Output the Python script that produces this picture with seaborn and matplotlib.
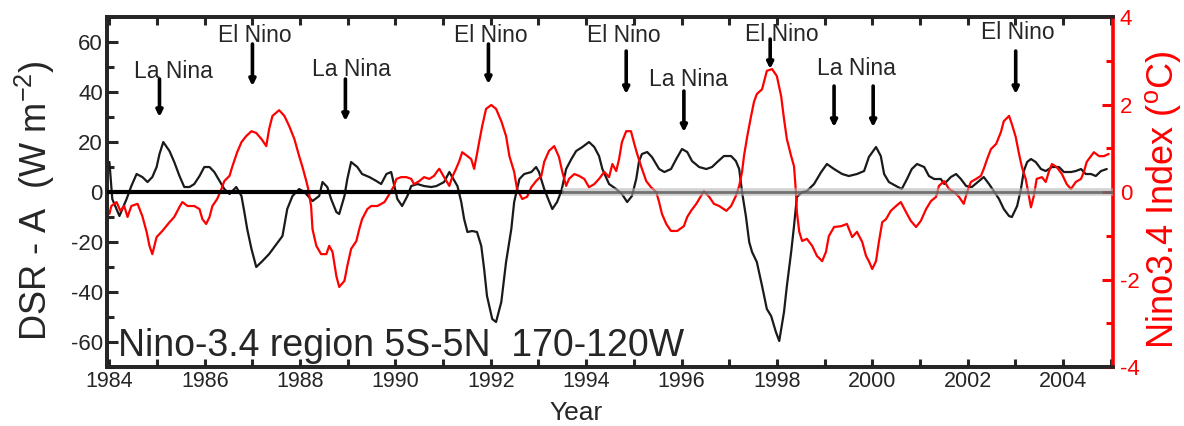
import numpy as np
import pandas as pd
import matplotlib
matplotlib.use("Agg")
import matplotlib.pyplot as plt
from matplotlib.ticker import MultipleLocator
import seaborn as sns

# ==========================================
# Data
# ==========================================

dsr_year = [
    1984.00, 1984.06, 1984.21, 1984.36, 1984.46, 1984.57, 1984.69, 1984.80, 1984.90, 1984.99,
    1985.05, 1985.13, 1985.26, 1985.36, 1985.47, 1985.57, 1985.68, 1985.78, 1985.89, 1985.99,
    1986.10, 1986.20, 1986.31, 1986.41, 1986.52, 1986.66, 1986.77, 1986.83, 1986.89, 1986.98,
    1987.08, 1987.21, 1987.35, 1987.63, 1987.73, 1987.84, 1987.98, 1988.09, 1988.26, 1988.40,
    1988.47, 1988.57, 1988.65, 1988.76, 1988.82, 1988.93, 1988.99, 1989.07, 1989.20, 1989.30,
    1989.45, 1989.60, 1989.70, 1989.81, 1989.91, 1990.04, 1990.14, 1990.25, 1990.33, 1990.46,
    1990.60, 1990.75, 1990.86, 1991.02, 1991.13, 1991.30, 1991.38, 1991.44, 1991.51, 1991.61,
    1991.71, 1991.80, 1991.86, 1991.92, 1992.03, 1992.11, 1992.22, 1992.32, 1992.43, 1992.49,
    1992.60, 1992.70, 1992.85, 1992.95, 1993.01, 1993.12, 1993.22, 1993.29, 1993.39, 1993.48,
    1993.58, 1993.69, 1993.79, 1993.92, 1994.06, 1994.17, 1994.27, 1994.34, 1994.48, 1994.63,
    1994.75, 1994.86, 1994.96, 1995.05, 1995.11, 1995.17, 1995.28, 1995.38, 1995.53, 1995.64,
    1995.78, 1995.89, 1996.01, 1996.12, 1996.22, 1996.37, 1996.52, 1996.64, 1996.75, 1996.89,
    1997.04, 1997.14, 1997.21, 1997.27, 1997.35, 1997.42, 1997.48, 1997.58, 1997.69, 1997.79,
    1997.88, 1997.98, 1998.05, 1998.15, 1998.21, 1998.30, 1998.36, 1998.42, 1998.53, 1998.63,
    1998.78, 1998.93, 1999.05, 1999.20, 1999.37, 1999.51, 1999.68, 1999.83, 1999.93, 2000.08,
    2000.18, 2000.25, 2000.35, 2000.50, 2000.62, 2000.73, 2000.83, 2000.94, 2001.09, 2001.19,
    2001.30, 2001.44, 2001.51, 2001.65, 2001.76, 2001.86, 2001.97, 2002.09, 2002.24, 2002.34,
    2002.45, 2002.55, 2002.66, 2002.76, 2002.87, 2002.93, 2003.04, 2003.12, 2003.18, 2003.25,
    2003.33, 2003.43, 2003.54, 2003.64, 2003.77, 2003.92, 2004.02, 2004.17, 2004.27, 2004.38,
    2004.48, 2004.59, 2004.69, 2004.80, 2004.92,
]
dsr_anom = [
    12.0, -2.8, -9.6, -2.8, 2.4, 7.2, 6.0, 4.0, 6.0, 10.0,
    15.2, 20.0, 16.4, 12.0, 6.4, 2.0, 2.0, 3.2, 6.4, 10.0,
    10.0, 8.0, 4.4, 1.2, -0.8, 2.0, -1.6, -8.0, -14.8, -22.8,
    -30.0, -27.6, -24.8, -17.6, -6.8, -1.6, 1.2, 0.0, -3.6, -1.6,
    4.0, 2.0, -2.8, -8.0, -8.8, -1.6, 5.2, 12.0, 10.0, 7.2,
    6.0, 4.4, 3.2, 7.2, 8.0, -2.8, -5.6, -1.6, 2.4, 3.2,
    2.4, 2.0, 2.4, 4.0, 8.0, 2.4, -4.0, -10.8, -16.0, -15.6,
    -16.0, -21.6, -30.8, -41.6, -50.8, -52.0, -44.0, -28.0, -14.8, -4.0,
    5.2, 7.2, 8.0, 10.0, 8.0, 1.2, -3.6, -6.8, -4.0, 0.4,
    9.2, 13.2, 16.4, 18.0, 20.0, 18.0, 14.4, 9.2, 3.2, 1.2,
    -0.8, -4.0, -1.6, 5.2, 12.4, 15.2, 16.0, 14.0, 9.2, 8.0,
    9.2, 13.2, 17.2, 16.0, 12.4, 10.0, 9.2, 10.0, 12.0, 14.4,
    14.4, 12.4, 9.2, 0.0, -9.6, -20.0, -24.0, -28.0, -37.6, -46.8,
    -49.6, -56.0, -59.6, -48.0, -37.6, -24.0, -13.6, -2.0, 0.0, 0.4,
    3.2, 8.0, 11.2, 9.2, 7.2, 6.4, 7.2, 8.4, 14.0, 18.0,
    14.4, 7.2, 4.0, 2.4, 1.2, 5.2, 9.2, 11.2, 10.0, 6.4,
    5.2, 5.2, 3.2, 6.0, 7.2, 5.2, 2.4, 2.0, 4.4, 6.0,
    3.2, 0.4, -2.8, -6.8, -9.6, -10.0, -5.6, 1.2, 8.4, 12.0,
    13.2, 12.0, 9.2, 8.4, 10.0, 10.0, 8.0, 8.0, 8.4, 9.2,
    7.2, 7.2, 6.4, 8.4, 9.2,
]

nino_year = [
    1984.00, 1984.04, 1984.15, 1984.23, 1984.31, 1984.38, 1984.46, 1984.59, 1984.69, 1984.78,
    1984.84, 1984.90, 1984.99, 1985.11, 1985.26, 1985.36, 1985.47, 1985.53, 1985.64, 1985.78,
    1985.89, 1985.95, 1986.03, 1986.10, 1986.16, 1986.26, 1986.35, 1986.41, 1986.52, 1986.58,
    1986.68, 1986.77, 1986.87, 1986.98, 1987.08, 1987.19, 1987.29, 1987.35, 1987.42, 1987.56,
    1987.67, 1987.77, 1987.88, 1987.98, 1988.05, 1988.13, 1988.17, 1988.23, 1988.26, 1988.34,
    1988.44, 1988.55, 1988.61, 1988.68, 1988.76, 1988.82, 1988.93, 1988.99, 1989.07, 1989.18,
    1989.24, 1989.30, 1989.41, 1989.49, 1989.62, 1989.77, 1989.87, 1989.97, 1990.02, 1990.12,
    1990.23, 1990.33, 1990.39, 1990.50, 1990.60, 1990.71, 1990.81, 1990.88, 1990.92, 1991.02,
    1991.13, 1991.19, 1991.27, 1991.34, 1991.40, 1991.51, 1991.59, 1991.65, 1991.71, 1991.76,
    1991.82, 1991.90, 1992.01, 1992.11, 1992.22, 1992.32, 1992.39, 1992.49, 1992.55, 1992.66,
    1992.76, 1992.85, 1992.95, 1993.06, 1993.12, 1993.22, 1993.33, 1993.43, 1993.50, 1993.58,
    1993.64, 1993.75, 1993.85, 1993.96, 1994.06, 1994.17, 1994.27, 1994.38, 1994.48, 1994.55,
    1994.63, 1994.69, 1994.75, 1994.84, 1994.94, 1995.01, 1995.07, 1995.17, 1995.26, 1995.36,
    1995.47, 1995.53, 1995.59, 1995.68, 1995.78, 1995.91, 1996.05, 1996.12, 1996.20, 1996.31,
    1996.37, 1996.47, 1996.58, 1996.68, 1996.79, 1996.94, 1997.04, 1997.14, 1997.21, 1997.27,
    1997.31, 1997.38, 1997.46, 1997.52, 1997.58, 1997.69, 1997.79, 1997.90, 1998.00, 1998.09,
    1998.15, 1998.21, 1998.30, 1998.36, 1998.40, 1998.42, 1998.47, 1998.53, 1998.63, 1998.74,
    1998.84, 1998.95, 1999.03, 1999.09, 1999.20, 1999.35, 1999.47, 1999.58, 1999.68, 1999.79,
    1999.87, 1999.93, 2000.00, 2000.08, 2000.14, 2000.21, 2000.29, 2000.39, 2000.50, 2000.60,
    2000.71, 2000.81, 2000.92, 2001.02, 2001.13, 2001.23, 2001.34, 2001.40, 2001.51, 2001.61,
    2001.72, 2001.82, 2001.92, 2001.99, 2002.07, 2002.18, 2002.28, 2002.34, 2002.41, 2002.49,
    2002.60, 2002.70, 2002.76, 2002.87, 2002.93, 2003.01, 2003.08, 2003.14, 2003.22, 2003.33,
    2003.39, 2003.45, 2003.56, 2003.64, 2003.71, 2003.77, 2003.87, 2003.98, 2004.08, 2004.17,
    2004.27, 2004.38, 2004.44, 2004.50, 2004.59, 2004.65, 2004.76, 2004.86, 2004.96,
]
nino_index = [
    -0.50, -0.32, -0.23, -0.43, -0.32, -0.57, -0.32, -0.27, -0.55, -0.91,
    -1.23, -1.42, -1.03, -0.89, -0.69, -0.57, -0.34, -0.23, -0.32, -0.32,
    -0.39, -0.62, -0.73, -0.57, -0.32, -0.16, 0.07, 0.25, 0.37, 0.59,
    0.91, 1.14, 1.28, 1.39, 1.35, 1.21, 1.05, 1.44, 1.74, 1.87,
    1.74, 1.51, 1.21, 0.82, 0.57, 0.25, 0.07, -0.32, -0.85, -1.23,
    -1.42, -1.42, -1.23, -1.37, -1.92, -2.17, -2.03, -1.69, -1.30, -1.12,
    -0.85, -0.62, -0.39, -0.32, -0.32, -0.23, -0.05, 0.14, 0.30, 0.34,
    0.34, 0.30, 0.18, 0.25, 0.34, 0.30, 0.37, 0.48, 0.53, 0.34,
    0.14, 0.34, 0.53, 0.71, 0.91, 0.82, 0.75, 0.53, 0.87, 1.17,
    1.51, 1.90, 1.99, 1.90, 1.62, 1.28, 0.82, 0.46, 0.07, -0.16,
    -0.11, 0.11, 0.25, 0.37, 0.69, 0.94, 1.05, 0.80, 0.46, 0.14,
    0.30, 0.41, 0.37, 0.30, 0.11, 0.18, 0.30, 0.46, 0.34, 0.64,
    0.48, 0.75, 1.14, 1.39, 1.39, 1.10, 0.87, 0.53, 0.25, 0.11,
    0.00, -0.23, -0.50, -0.73, -0.89, -0.89, -0.78, -0.57, -0.43, -0.27,
    -0.16, 0.02, -0.11, -0.27, -0.32, -0.43, -0.32, -0.09, 0.14, 0.46,
    0.82, 1.28, 1.74, 2.06, 2.24, 2.35, 2.77, 2.81, 2.65, 2.19,
    1.67, 1.21, 0.82, 0.59, 0.00, -0.46, -0.91, -1.12, -1.07, -1.23,
    -1.46, -1.58, -1.37, -1.01, -0.80, -0.78, -0.73, -1.03, -0.91, -1.14,
    -1.46, -1.58, -1.76, -1.58, -1.14, -0.69, -0.62, -0.43, -0.32, -0.23,
    -0.46, -0.66, -0.80, -0.66, -0.39, -0.21, -0.11, 0.14, 0.25, 0.07,
    0.00, -0.11, -0.27, 0.00, 0.23, 0.30, 0.37, 0.53, 0.75, 0.98,
    1.10, 1.37, 1.62, 1.74, 1.55, 1.26, 0.87, 0.57, 0.30, -0.35,
    -0.09, 0.30, 0.34, 0.23, 0.48, 0.64, 0.57, 0.41, 0.18, 0.07,
    0.23, 0.30, 0.46, 0.69, 0.82, 0.91, 0.82, 0.82, 0.87,
]

# ENSO event labels (text baseline in W m-2 units)
event_labels = ["La Nina", "El Nino", "La Nina", "El Nino", "El Nino",
                "La Nina", "El Nino", "La Nina", "El Nino"]
event_x = [1985.34, 1987.06, 1989.07, 1991.99, 1994.80, 1996.14, 1998.10, 1999.66, 2003.06]
event_y = [45.6, 60.0, 46.4, 60.0, 60.0, 42.4, 60.4, 46.8, 61.2]

arrow_x = [1985.05, 1987.00, 1988.95, 1991.95, 1994.84, 1996.05, 1997.86, 1999.20, 2000.02, 2003.01]
arrow_top = [45.2, 59.2, 45.2, 59.2, 56.4, 40.4, 61.2, 42.4, 42.4, 56.4]
arrow_tip = [30.0, 42.4, 28.4, 43.2, 39.2, 24.0, 49.2, 26.0, 26.0, 39.2]

x_ticks = list(range(1984, 2005, 2))
dsr_ticks = [-60, -40, -20, 0, 20, 40, 60]
nino_ticks = [-4, -2, 0, 2, 4]
zero_split = 1993.5

df_dsr = pd.DataFrame({"year": dsr_year, "value": dsr_anom})
df_nino = pd.DataFrame({"year": nino_year, "value": nino_index})

# ==========================================
# Style
# ==========================================

sns.set_style("ticks")
plt.rcParams["font.family"] = ["Liberation Sans", "DejaVu Sans"]
plt.rcParams["mathtext.default"] = "regular"
plt.rcParams["axes.unicode_minus"] = False

XMIN, XMAX = 1983.95, 2005.05
SPINE_W = 2.6

fig = plt.figure(figsize=(11.84, 4.26), dpi=100)
fig.subplots_adjust(left=0.0904, right=0.940, bottom=0.1385, top=0.960)
ax = fig.add_subplot(111)
ax2 = ax.twinx()

sns.lineplot(data=df_dsr, x="year", y="value", ax=ax, color="#1a1a1a",
             lw=1.6, estimator=None, sort=False)
sns.lineplot(data=df_nino, x="year", y="value", ax=ax2, color="#ff0000",
             lw=1.6, estimator=None, sort=False)

# zero reference line: black first half, grey band afterwards
ax2.plot([XMIN, zero_split], [0, 0], color="black", lw=3.0, zorder=5)
ax2.plot([zero_split, XMAX], [0, 0], color="#b4b4b4", lw=5.5, alpha=0.6, zorder=5,
         solid_capstyle="butt")
ax2.plot([zero_split, XMAX], [0, 0], color="#5a5a5a", lw=2.0, alpha=0.8, zorder=5,
         solid_capstyle="butt")

ax.set_xlim(XMIN, XMAX)
ax.set_ylim(-70, 70)
ax2.set_ylim(-4, 4)

ax.set_xticks(x_ticks)
ax.xaxis.set_minor_locator(MultipleLocator(1))
ax.set_yticks(dsr_ticks)
ax.yaxis.set_minor_locator(MultipleLocator(10))
ax2.set_yticks(nino_ticks)
ax2.yaxis.set_minor_locator(MultipleLocator(1))

ax.tick_params(axis="x", which="both", direction="in", top=True, bottom=True,
               width=2.2, labelsize=15.5, pad=3)
ax.tick_params(axis="x", which="major", length=6)
ax.tick_params(axis="x", which="minor", length=6)
ax.tick_params(axis="y", which="both", direction="in", left=True, right=False,
               width=2.2, labelsize=16, pad=3)
ax.tick_params(axis="y", which="major", length=8)
ax.tick_params(axis="y", which="minor", length=5)
ax2.tick_params(axis="y", which="both", direction="in", colors="red",
                width=2.2, labelsize=16, pad=5)
ax2.tick_params(axis="y", which="major", length=8)
ax2.tick_params(axis="y", which="minor", length=5)

for side in ["left", "top", "bottom"]:
    ax.spines[side].set_linewidth(SPINE_W)
    ax.spines[side].set_color("black")
    ax2.spines[side].set_linewidth(SPINE_W)
ax2.spines["right"].set_linewidth(SPINE_W)
ax2.spines["right"].set_color("red")
ax.spines["right"].set_visible(False)

ax.set_xlabel("")
ax.set_ylabel("")
ax2.set_ylabel("")

# ENSO annotations
for lab, x, y in zip(event_labels, event_x, event_y):
    ax.text(x, y, lab, ha="center", va="baseline", fontsize=16.5, zorder=6)
for x, y0, y1 in zip(arrow_x, arrow_top, arrow_tip):
    ax.annotate("", xy=(x, y1), xytext=(x, y0),
                arrowprops=dict(arrowstyle="-|>", lw=2.6, color="black",
                                mutation_scale=9, shrinkA=0, shrinkB=0))

ax.text(1984.17, -65.6, "Nino-3.4 region 5S-5N  170-120W", fontsize=27,
        ha="left", va="baseline", zorder=6)

fig.text(35 / 1184, 0.53, "DSR - A  (W m$^{-2}$)", rotation=90,
         ha="center", va="center", fontsize=26)
fig.text(1163 / 1184, 0.53, "Nino3.4 Index ($^{o}$C)", rotation=90,
         ha="center", va="center", fontsize=26, color="red")
fig.text(576 / 1184, 0.0141, "Year", ha="center", va="baseline", fontsize=19)

fig.savefig("out.png", dpi=100)
